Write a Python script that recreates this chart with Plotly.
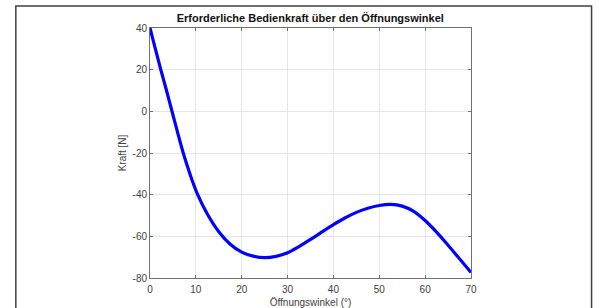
import plotly.graph_objects as go

# Data
winkel = [0, 1.17, 2.35, 3.6, 4.8, 6.0, 7.25, 8.7, 10.4, 12.5, 15, 17.5, 20, 22.5, 25,
          27.5, 30, 32.5, 35, 37.5, 40, 42.5, 45, 47.5, 50, 52.5, 55, 57.5, 60, 62.5, 65, 67.5, 70]
kraft = [40, 30, 20, 10, 0, -10, -20, -30, -40, -49.3, -57.8, -63.8, -67.6, -69.5, -70.2,
         -69.6, -67.9, -64.9, -61.5, -57.9, -54.4, -51.2, -48.5, -46.5, -45.2, -44.7, -45.5,
         -48.0, -52.4, -58.0, -64.3, -70.8, -77.4]

x_ticks = [0, 10, 20, 30, 40, 50, 60, 70]
y_ticks = [40, 20, 0, -20, -40, -60, -80]

title_text = "Erforderliche Bedienkraft über den Öffnungswinkel"
x_title = "Öffnungswinkel (°)"
y_title = "Kraft [N]"

FONT = "Liberation Sans, Arial, sans-serif"

fig = go.Figure()
fig.add_trace(go.Scatter(
    x=winkel, y=kraft, mode="lines",
    line=dict(color="#0000ff", width=3.2, shape="spline", smoothing=1.0),
    hoverinfo="skip", showlegend=False,
))

W, H = 598, 308
L, T = 150, 28
R = W - 470.6
B = H - 277.7
pw, ph = W - L - R, H - T - B

fig.update_layout(
    width=W, height=H,
    margin=dict(l=L, r=R, t=T, b=B, pad=0, autoexpand=False),
    paper_bgcolor="white", plot_bgcolor="white",
    font=dict(family=FONT, size=10, color="#404040"),
    title=dict(text="<b>" + title_text + "</b>", x=(L + pw / 2) / W, xanchor="center",
               y=1 - 18 / H, yanchor="middle",
               font=dict(family=FONT, size=11, color="#111111")),
    xaxis=dict(
        range=[0, 70], tickvals=x_ticks, ticktext=[str(v) for v in x_ticks],
        showgrid=True, gridcolor="#e6e6e6", gridwidth=1, automargin=False,
        zeroline=False, showline=True, linecolor="#707070", linewidth=1, mirror="ticks",
        ticks="inside", ticklen=3, tickcolor="#707070", ticklabelstandoff=2,
        title=dict(text=x_title, standoff=13, font=dict(size=10, color="#404040")),
        tickfont=dict(size=10, color="#404040"),
    ),
    yaxis=dict(
        range=[-80, 40], tickvals=y_ticks, ticktext=[str(v) for v in y_ticks],
        showgrid=True, gridcolor="#e6e6e6", gridwidth=1, automargin=False,
        zeroline=False, showline=True, linecolor="#707070", linewidth=1, mirror="ticks",
        ticks="inside", ticklen=3, tickcolor="#707070",
        title=dict(text=y_title, standoff=4, font=dict(size=10, color="#404040")),
        tickfont=dict(size=10, color="#404040"),
    ),
)

# Outer frame around the figure (like a bordered screenshot)
x0 = (16 - L) / pw
x1 = (591 - L) / pw
y1 = (H - B - 6) / ph
y0 = (H - B - 320) / ph
fig.add_shape(type="rect", xref="paper", yref="paper", x0=x0, x1=x1, y0=y0, y1=y1,
              line=dict(color="#404040", width=1.5), fillcolor="rgba(0,0,0,0)", layer="above")

fig.write_html("out.html", config={"displayModeBar": False},
               post_script="document.body.style.margin='0px';")
